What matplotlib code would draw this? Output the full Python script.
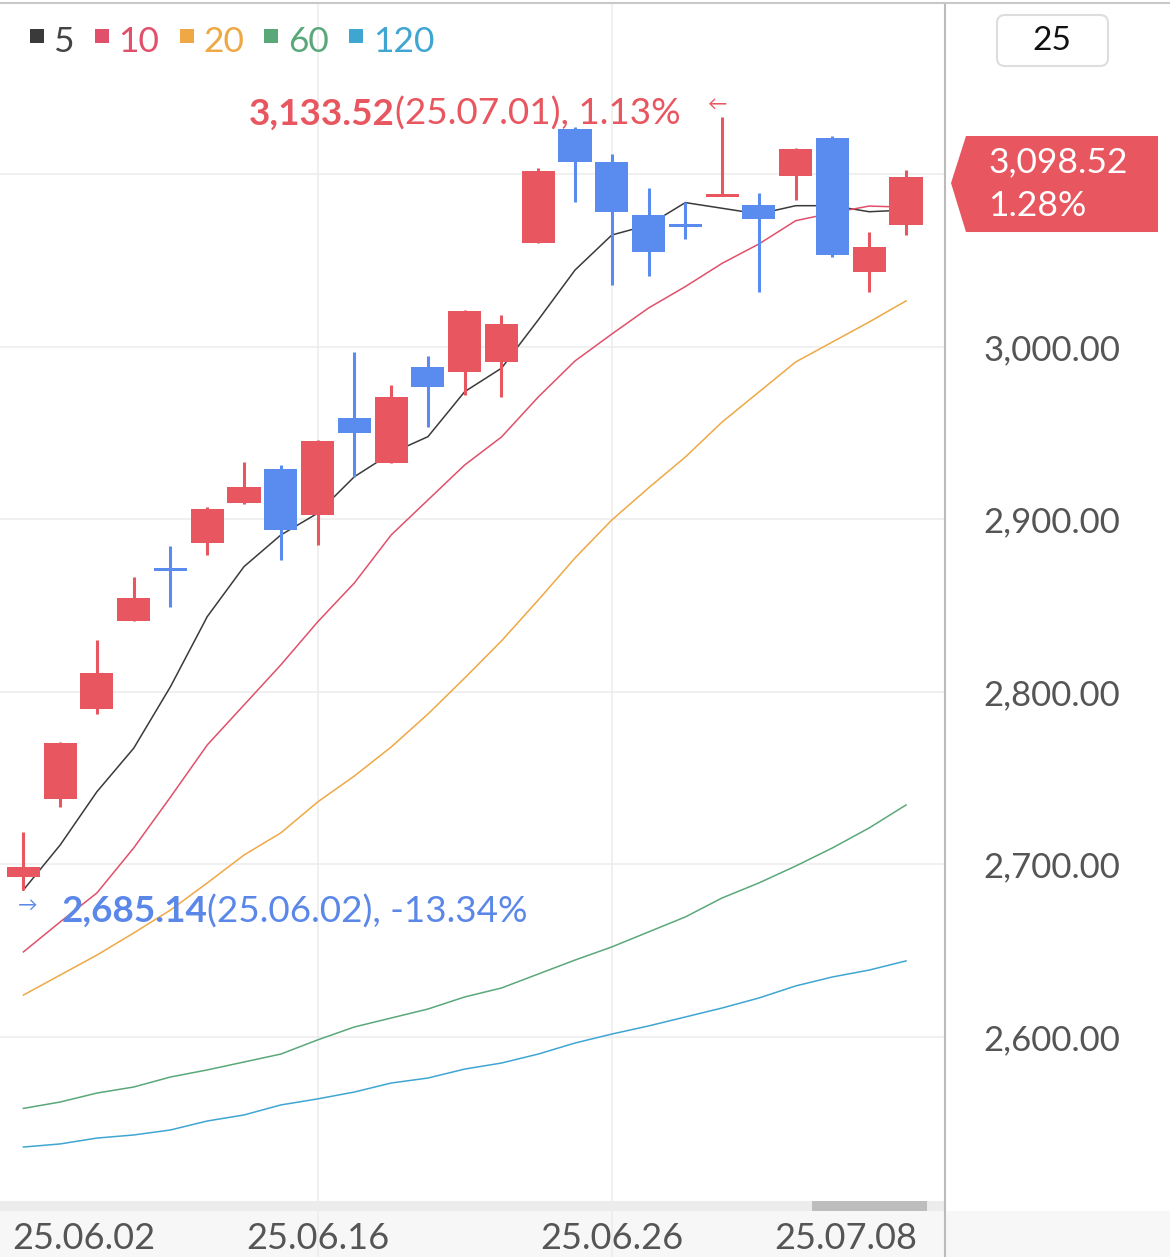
import numpy as np
import matplotlib.pyplot as plt
from matplotlib.patches import Rectangle, Polygon, FancyBboxPatch
from matplotlib.transforms import Affine2D
from matplotlib.lines import Line2D

W, H = 1170, 1257

# daily candles
dates = ['25.06.02', '25.06.04', '25.06.05', '25.06.09', '25.06.10', '25.06.11',
         '25.06.12', '25.06.13', '25.06.16', '25.06.17', '25.06.18', '25.06.19',
         '25.06.20', '25.06.23', '25.06.24', '25.06.25', '25.06.26', '25.06.27',
         '25.06.30', '25.07.01', '25.07.02', '25.07.03', '25.07.04', '25.07.07',
         '25.07.08']
opens = [2692.8, 2737.8, 2790.0, 2841.0, 2871.5, 2886.6, 2909.4, 2929.4, 2902.8,
         2958.7, 2932.9, 2988.6, 2985.7, 2991.5, 3060.5, 3126.4, 3107.1, 3076.5,
         3070.6, 3087.3, 3082.3, 3099.3, 3121.0, 3043.7, 3070.7]
closes = [2698.6, 2770.3, 2811.2, 2854.7, 2870.7, 2905.9, 2919.0, 2893.9, 2945.7,
          2950.0, 2971.2, 2977.0, 3020.9, 3013.2, 3102.2, 3107.4, 3078.4, 3054.9,
          3070.0, 3088.4, 3074.2, 3114.8, 3053.3, 3058.1, 3098.52]
highs = [2718.8, 2770.8, 2830.1, 2866.5, 2884.6, 2907.1, 2933.2, 2931.4, 2946.2,
         2997.3, 2978.0, 2995.0, 3021.3, 3018.6, 3103.6, 3127.7, 3111.9, 3092.0,
         3084.2, 3133.52, 3089.1, 3115.3, 3122.3, 3066.8, 3102.6]
lows = [2685.14, 2733.5, 2787.2, 2841.0, 2849.1, 2879.4, 2909.0, 2876.5, 2885.2,
        2924.8, 2932.5, 2953.8, 2972.2, 2970.8, 3060.0, 3083.9, 3035.9, 3041.2,
        3062.6, 3087.3, 3032.1, 3085.2, 3052.3, 3032.1, 3064.9]

# moving averages
ma5 = [2685.2, 2711.3, 2742.2, 2767.4, 2803.1, 2843.7, 2872.7, 2891.0, 2903.6,
       2924.8, 2938.4, 2948.0, 2974.1, 2987.7, 3015.7, 3044.6, 3064.9, 3070.7,
       3083.7, 3080.4, 3077.1, 3081.9, 3081.9, 3078.4, 3079.4]
ma10 = [2649.3, 2666.7, 2683.5, 2709.6, 2739.1, 2769.3, 2792.5, 2815.7, 2840.6,
        2863.2, 2891.0, 2911.3, 2931.6, 2947.8, 2971.0, 2991.9, 3007.5, 3022.6,
        3035.0, 3048.5, 3059.7, 3073.2, 3077.7, 3081.7, 3081.0]
ma20 = [2624.3, 2635.9, 2647.5, 2660.3, 2673.6, 2689.3, 2705.5, 2718.3, 2736.2,
        2751.3, 2768.1, 2787.2, 2808.1, 2829.6, 2853.3, 2877.7, 2899.7, 2918.3,
        2936.2, 2956.5, 2973.9, 2991.3, 3002.9, 3014.5, 3026.7]
ma60 = [2558.6, 2562.3, 2567.5, 2571.0, 2576.8, 2580.9, 2585.5, 2590.1, 2598.3,
        2605.8, 2611.0, 2616.2, 2623.2, 2628.4, 2636.5, 2644.6, 2652.2, 2660.9,
        2669.6, 2680.6, 2689.3, 2699.1, 2709.6, 2721.2, 2734.5]
ma120 = [2536.2, 2538.0, 2541.4, 2543.2, 2546.1, 2551.3, 2554.8, 2560.6, 2564.1,
         2568.1, 2573.3, 2576.2, 2581.4, 2584.9, 2590.1, 2596.5, 2601.7, 2606.4,
         2611.6, 2616.8, 2622.6, 2629.6, 2634.8, 2638.8, 2644.1]

ma_periods = ['5', '10', '20', '60', '120']
price_ticks = [2600, 2700, 2800, 2900, 3000, 3100]
date_ticks = ['25.06.02', '25.06.16', '25.06.26', '25.07.08']
last_change = 1.28
visible_count = 25

UP = '#e8565f'
DOWN = '#5a8bef'
MIN_C = '#5b87e8'
ma_colors = ['#3a3a3a', '#e0506a', '#eea844', '#5aa87a', '#3fa6d2']
GRID = '#ececec'

plt.rcParams['font.family'] = ['Lato', 'DejaVu Sans']

fig = plt.figure(figsize=(W / 100, H / 100), dpi=100)
pix = Affine2D().scale(1, -1).translate(0, H)  # pixel coords, origin top-left

# bottom bands
fig.add_artist(Rectangle((0, 1211), W, H - 1211, transform=pix, fc='#f7f7f7', ec='none', zorder=-2))
fig.add_artist(Rectangle((0, 1201), 945, 10, transform=pix, fc='#ececec', ec='none', zorder=-2))
fig.add_artist(Rectangle((812, 1201), 115, 10, transform=pix, fc='#bdbdbd', ec='none', zorder=-1))

ax = fig.add_axes([0, (H - 1200) / H, 945 / W, (1200 - 3) / H])
for s in ax.spines.values():
    s.set_visible(False)

x = np.arange(len(dates))
o = np.array(opens)
c = np.array(closes)
h = np.array(highs)
l = np.array(lows)

# moving averages behind candles
for ma, col in zip([ma5, ma10, ma20, ma60, ma120], ma_colors):
    ax.plot(x, ma, color=col, lw=1.1, zorder=2)

colors = np.where(c >= o, UP, DOWN)
min_h = 1.8
body_h = np.maximum(np.abs(c - o), min_h)
body_lo = np.where(np.abs(c - o) < min_h, (o + c) / 2 - min_h / 2, np.minimum(o, c))
ax.vlines(x, l, h, colors=colors, lw=2.2, zorder=3)
ax.bar(x, body_h, bottom=body_lo, width=0.9, color=colors, lw=0, zorder=4)

ax.set_xlim(-0.636, 25.06)
ax.set_ylim(2505.5, 3199.4)

# grid
ax.set_yticks(price_ticks, [f'{v:,.2f}' if v <= 3000 else '' for v in price_ticks])
ax.yaxis.grid(True, color=GRID, lw=1.1)
ax.set_axisbelow(True)
ax.yaxis.tick_right()
ax.tick_params(axis='y', length=0, pad=77, labelsize=25, labelcolor='#555555')
for lbl in ax.get_yticklabels():
    lbl.set_ha('center')
ax.set_xticks([])

xt = ax.get_xaxis_transform()
for d in date_ticks[1:3]:
    i = dates.index(d)
    ax.plot([i, i], [-0.048, 1], transform=xt, color=GRID, lw=1.1, zorder=0, clip_on=False)

for k, d in enumerate(date_ticks):
    i = dates.index(d)
    if k == 0:
        ax.text(i - 0.3, -0.032, d, transform=xt, ha='left', va='center', size=26, color='#555555')
    elif k == len(date_ticks) - 1:
        ax.text(i + 0.3, -0.032, d, transform=xt, ha='right', va='center', size=26, color='#555555')
    else:
        ax.text(i, -0.032, d, transform=xt, ha='center', va='center', size=26, color='#555555')

# frame lines
fig.add_artist(Line2D([945, 945], [3, H], transform=pix, color='#bbbbbb', lw=1.5))
fig.add_artist(Line2D([0, W], [3, 3], transform=pix, color='#c8c8c8', lw=1.5))

fig.canvas.draw()
renderer = fig.canvas.get_renderer()


def to_pix(xv, yv):
    dx, dy = ax.transData.transform((xv, yv))
    return dx, H - dy


# legend
xpos = 30
for lab, col in zip(ma_periods, ma_colors):
    fig.add_artist(Rectangle((xpos, 29), 14, 14, transform=pix, fc=col, ec='none'))
    t = fig.text(xpos + 24, 52, lab, transform=pix, ha='left', va='baseline', size=25.5,
                 color=col if lab != '5' else '#444444')
    xpos = t.get_window_extent(renderer).x1 + 20

# visible count box
fig.add_artist(FancyBboxPatch((997, 15), 111, 51, boxstyle='round,pad=0,rounding_size=8',
                              transform=pix, fc='white', ec='#dddddd', lw=1.5))
fig.text(1052, 41, str(visible_count), transform=pix, ha='center', va='center', size=24, color='#111111')

# last price tag
_, cy = to_pix(x[-1], c[-1])
tip = cy + 6
fig.add_artist(Polygon([(951, tip), (966, tip - 47), (1158, tip - 47), (1158, tip + 49), (966, tip + 49)],
                       closed=True, transform=pix, fc=UP, ec='none'))
fig.text(988, tip - 21, f'{c[-1]:,.2f}', transform=pix, ha='left', va='center', size=25.5, color='white')
fig.text(988, tip + 23, f'{last_change:.2f}%', transform=pix, ha='left', va='center', size=25.5, color='white')

# max annotation
imax = int(np.argmax(h))
mx, my = to_pix(imax, h[imax])
pct_max = (h[imax] / c[-1] - 1) * 100
t_rest = fig.text(mx - 42, my + 8, f'({dates[imax]}), {pct_max:.2f}%', transform=pix,
                  ha='right', va='baseline', size=26.6, color=UP)
bb = t_rest.get_window_extent(renderer)
fig.text(bb.x0, my + 8, f'{h[imax]:,.2f}', transform=pix, ha='right', va='baseline',
         size=26.6, weight='bold', color=UP)
fig.text(mx - 4, my - 12, '←', transform=pix, ha='center', va='center', size=14, color=UP)

# min annotation
imin = int(np.argmin(l))
nx, ny = to_pix(imin, l[imin])
pct_min = (l[imin] / c[-1] - 1) * 100
t_b = fig.text(nx + 38, ny + 32, f'{l[imin]:,.2f}', transform=pix, ha='left', va='baseline',
               size=26.6, weight='bold', color=MIN_C)
bb = t_b.get_window_extent(renderer)
fig.text(bb.x1, ny + 32, f'({dates[imin]}), {pct_min:.2f}%', transform=pix, ha='left',
         va='baseline', size=26.6, color=MIN_C)
fig.text(nx + 4, ny + 15, '→', transform=pix, ha='center', va='center', size=14, color=MIN_C)

fig.savefig('out.png', dpi=100)
